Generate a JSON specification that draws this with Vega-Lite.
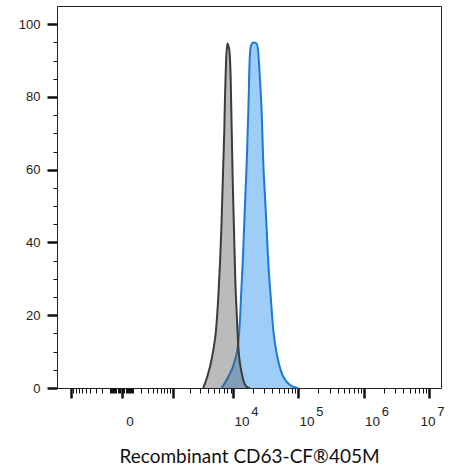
{
  "$schema": "https://vega.github.io/schema/vega-lite/v6.json",
  "width": 384,
  "height": 382,
  "autosize": "none",
  "padding": {"left": 57, "top": 6, "right": 11, "bottom": 85},
  "background": "white",
  "config": {
    "view": {"stroke": "#222222", "strokeWidth": 1},
    "axis": {"grid": false, "domain": false, "labelFont": "Liberation Sans", "labelColor": "#222222", "tickColor": "#111111"}
  },
  "datasets": {
    "blue": [
      {"intensity": 6548, "count": 0}, {"intensity": 8312, "count": 3.1}, {"intensity": 10574, "count": 7.7},
      {"intensity": 11898, "count": 12.4}, {"intensity": 12640, "count": 18.7}, {"intensity": 13100, "count": 25.1},
      {"intensity": 13920, "count": 34.4}, {"intensity": 14580, "count": 43.4}, {"intensity": 15270, "count": 52.6},
      {"intensity": 16050, "count": 61.8}, {"intensity": 16640, "count": 70.9}, {"intensity": 17240, "count": 80.1},
      {"intensity": 17608, "count": 87.4}, {"intensity": 18508, "count": 93.8}, {"intensity": 20290, "count": 95.0},
      {"intensity": 22900, "count": 94.7}, {"intensity": 24240, "count": 92.0}, {"intensity": 25740, "count": 84.7},
      {"intensity": 27340, "count": 75.6}, {"intensity": 28940, "count": 61.8}, {"intensity": 30720, "count": 52.6},
      {"intensity": 32640, "count": 43.4}, {"intensity": 34540, "count": 34.4}, {"intensity": 37600, "count": 25.1},
      {"intensity": 41200, "count": 15.9}, {"intensity": 47480, "count": 8.6}, {"intensity": 55440, "count": 4.1},
      {"intensity": 66120, "count": 1.7}, {"intensity": 83440, "count": 0.36}, {"intensity": 99500, "count": 0}
    ],
    "gray": [
      {"intensity": 3334, "count": 0}, {"intensity": 4274, "count": 5.85}, {"intensity": 4824, "count": 10.4},
      {"intensity": 5324, "count": 15.9}, {"intensity": 5790, "count": 25.1}, {"intensity": 6158, "count": 34.4},
      {"intensity": 6456, "count": 43.4}, {"intensity": 6694, "count": 52.6}, {"intensity": 6942, "count": 61.8},
      {"intensity": 7196, "count": 70.9}, {"intensity": 7380, "count": 80.1}, {"intensity": 7652, "count": 89.3},
      {"intensity": 8018, "count": 94.7}, {"intensity": 8618, "count": 92.9}, {"intensity": 9062, "count": 84.7},
      {"intensity": 9394, "count": 70.9}, {"intensity": 9738, "count": 57.2}, {"intensity": 10200, "count": 43.4},
      {"intensity": 10688, "count": 29.7}, {"intensity": 11238, "count": 20.6}, {"intensity": 11898, "count": 11.4},
      {"intensity": 13436, "count": 4.1}, {"intensity": 16050, "count": 0.36}, {"intensity": 18054, "count": 0}
    ]
  },
  "resolve": {"axis": {"x": "independent", "y": "independent"}},
  "layer": [
    {
      "data": {"name": "blue"},
      "mark": {"type": "area", "interpolate": "monotone", "color": "#9ecdf8", "opacity": 1},
      "encoding": {
        "x": {
          "field": "intensity", "type": "quantitative",
          "scale": {"type": "symlog", "constant": 200, "domain": [-1737.7, 15039400], "nice": false, "zero": false},
          "axis": {
            "orient": "bottom",
            "values": [-1000, 0, 1000, 10000, 100000, 1000000, 10000000],
            "labelExpr": "datum.value == 0 ? '0' : (datum.value >= 10000 ? '10' : '')",
            "tickSize": 10, "tickWidth": 2.5, "labelFontSize": 13.5,
            "labelOffset": {"condition": {"test": "datum.value >= 10000000", "value": -2}, "value": 8},
            "labelPadding": 16,
            "labelFlush": false, "labelOverlap": false,
            "title": "Recombinant CD63-CF®405M", "titleFont": "Lato", "titleFontSize": 19, "titleFontWeight": "normal",
            "titleColor": "#111111", "titlePadding": 20
          }
        },
        "y": {
          "field": "count", "type": "quantitative",
          "scale": {"domain": [0, 105], "nice": false},
          "axis": {
            "orient": "left",
            "values": [0, 20, 40, 60, 80, 100],
            "tickSize": 10, "tickWidth": 2.5, "labelFontSize": 13, "labelPadding": 7, "title": null
          }
        }
      }
    },
    {
      "data": {"name": "blue"},
      "mark": {"type": "line", "interpolate": "monotone", "color": "#1a7ad6", "strokeWidth": 2},
      "encoding": {
        "x": {
          "field": "intensity", "type": "quantitative",
          "axis": {
            "orient": "bottom",
            "values": [-900, -800, -700, -600, -500, -400, -300, -200, -100, -90, -80, -70, -60, -50, -40, -30, -20, -10,
                       10, 20, 30, 40, 50, 60, 70, 80, 90, 100, 200, 300, 400, 500, 600, 700, 800, 900,
                       2000, 3000, 4000, 5000, 6000, 7000, 8000, 9000,
                       20000, 30000, 40000, 50000, 60000, 70000, 80000, 90000,
                       200000, 300000, 400000, 500000, 600000, 700000, 800000, 900000,
                       2000000, 3000000, 4000000, 5000000, 6000000, 7000000, 8000000, 9000000],
            "tickSize": 5, "tickWidth": 1, "labels": false, "title": null
          }
        },
        "y": {
          "field": "count", "type": "quantitative",
          "axis": {
            "orient": "left",
            "values": [5, 10, 15, 25, 30, 35, 45, 50, 55, 65, 70, 75, 85, 90, 95],
            "tickSize": 4, "tickWidth": 1, "labels": false, "title": null
          }
        }
      }
    },
    {
      "data": {"name": "gray"},
      "mark": {"type": "area", "interpolate": "monotone", "color": "#555555", "opacity": 0.4},
      "encoding": {
        "x": {
          "field": "intensity", "type": "quantitative",
          "axis": {
            "orient": "bottom",
            "values": [10000, 100000, 1000000, 10000000],
            "labelExpr": "format(log(datum.value) / log(10), '.0f')",
            "ticks": false, "tickSize": 0, "labelFontSize": 13,
            "labelOffset": {"condition": {"test": "datum.value >= 10000000", "value": 11}, "value": 21},
            "labelPadding": 17,
            "labelFlush": false, "labelOverlap": false, "title": null
          }
        },
        "y": {"field": "count", "type": "quantitative", "axis": null}
      }
    },
    {
      "data": {"name": "gray"},
      "mark": {"type": "line", "interpolate": "monotone", "color": "#3b3b3b", "strokeWidth": 2},
      "encoding": {
        "x": {"field": "intensity", "type": "quantitative", "axis": null},
        "y": {"field": "count", "type": "quantitative", "axis": null}
      }
    }
  ]
}
